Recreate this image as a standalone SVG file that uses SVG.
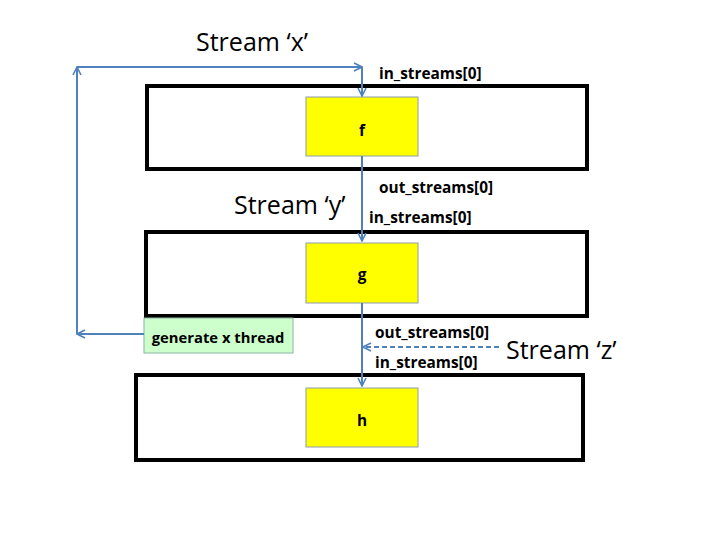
<svg xmlns="http://www.w3.org/2000/svg" width="720" height="540" viewBox="0 0 720 540">
<style>
.frame{fill:#fff;stroke:#000;stroke-width:4}
.proc{fill:#ffff00;stroke:#8c9cb0;stroke-width:1}
.lbl{font-family:"Open Sans",sans-serif;font-weight:bold;font-size:15.4px;fill:#000}
.big{font-family:"Open Sans",sans-serif;font-size:25px;fill:#000}
.conn{fill:none;stroke:#4f81bd;stroke-width:2}
.dash{fill:none;stroke:#4f81bd;stroke-width:2;stroke-dasharray:5,3}
</style>
<defs>
<marker id="ah" viewBox="0 0 10 10" refX="9" refY="5" markerWidth="5" markerHeight="5" orient="auto" markerUnits="strokeWidth">
<path d="M1,1 L9,5 L1,9" fill="none" stroke="#4f81bd" stroke-width="1.6"/>
</marker>
</defs>
<g id="frame-f"><rect class="frame" x="147" y="86" width="440" height="83"/></g>
<g id="frame-g"><rect class="frame" x="146" y="232" width="441" height="84"/></g>
<g id="frame-h"><rect class="frame" x="136" y="375" width="447" height="85"/></g>
<g id="node-f"><rect class="proc" x="306" y="97" width="112" height="59"/><text class="lbl" x="362" y="136" text-anchor="middle">f</text></g>
<g id="node-g"><rect class="proc" x="306" y="243" width="112" height="60"/><text class="lbl" x="362" y="280" text-anchor="middle">g</text></g>
<g id="node-h"><rect class="proc" x="306" y="388" width="112" height="59"/><text class="lbl" x="362" y="426" text-anchor="middle">h</text></g>
<g id="node-gen"><rect x="144" y="318" width="149" height="35" fill="#ccffcc" stroke="#8cb4a8" stroke-width="1"/><text class="lbl" x="218" y="343" text-anchor="middle" style="font-size:14.8px">generate x thread</text></g>
<g id="connectors">
<line class="conn" x1="144" y1="334" x2="77" y2="334" marker-end="url(#ah)"/>
<line class="conn" x1="77" y1="334" x2="77" y2="67" marker-end="url(#ah)"/>
<line class="conn" x1="77" y1="67" x2="362" y2="67" marker-end="url(#ah)"/>
<line class="conn" x1="362" y1="67" x2="362" y2="96" marker-end="url(#ah)"/>
<line class="conn" x1="362" y1="156" x2="362" y2="241" marker-end="url(#ah)"/>
<line class="conn" x1="362" y1="303" x2="362" y2="386" marker-end="url(#ah)"/>
<line class="dash" x1="499" y1="347" x2="363" y2="347" marker-end="url(#ah)"/>
</g>
<g id="labels">
<text class="big" x="196" y="51">Stream ‘x’</text>
<text class="lbl" x="379" y="79">in_streams[0]</text>
<text class="lbl" x="379" y="193">out_streams[0]</text>
<text class="big" x="234" y="214">Stream ‘y’</text>
<text class="lbl" x="369" y="223">in_streams[0]</text>
<text class="lbl" x="375" y="338">out_streams[0]</text>
<text class="big" x="506" y="359">Stream ‘z’</text>
<text class="lbl" x="375" y="368">in_streams[0]</text>
</g>
</svg>
